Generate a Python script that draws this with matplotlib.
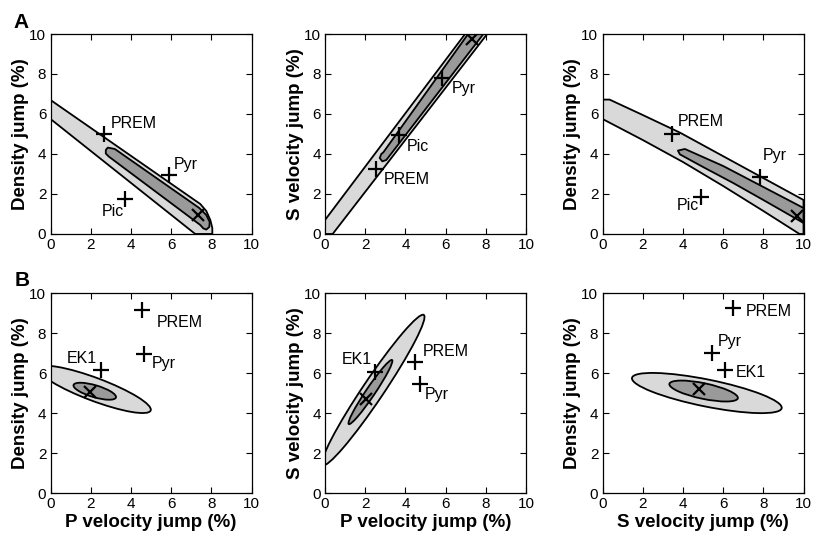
import matplotlib
matplotlib.use('Agg')
import matplotlib.pyplot as plt
from matplotlib.patches import Polygon, Ellipse

plt.rcParams['font.family'] = ['Liberation Sans', 'DejaVu Sans']

LIGHT = '#d9d9d9'
DARK = '#9a9a9a'
ticks = [0, 2, 4, 6, 8, 10]

# ---- row A : confidence regions (outlines) ----
a1_outer_x = [0, 0, 7.2, 8.05, 8.05, 7.95, 7.75, 7.45]
a1_outer_y = [6.7, 5.75, 0, 0, 0.3, 0.7, 1.15, 1.5]
a1_inner_x = [2.75, 2.75, 2.9, 7.45, 7.6, 7.75, 7.9, 7.92, 7.75, 7.4, 3.2, 2.85]
a1_inner_y = [4.2, 4.02, 3.87, 0.45, 0.28, 0.22, 0.35, 0.6, 0.95, 1.3, 4.25, 4.32]
a1_models = ['PREM', 'Pyr', 'Pic']
a1_model_x = [2.64, 5.87, 3.72]
a1_model_y = [5.02, 2.94, 1.77]
a1_best = [7.36, 0.97]
a1_text_x = [2.98, 6.15, 3.64]
a1_text_y = [5.52, 3.48, 1.14]
a1_text_ha = ['left', 'left', 'right']

a2_outer_x = [0, 0.38, 8.07, 6.97, 0]
a2_outer_y = [0, 0, 10, 10, 0.7]
a2_inner_x = [2.72, 2.8, 2.9, 7.12, 7.88, 3.05, 2.85]
a2_inner_y = [3.8, 4.0, 4.08, 10, 10, 3.7, 3.63]
a2_models = ['PREM', 'Pyr', 'Pic']
a2_model_x = [2.56, 5.82, 3.67]
a2_model_y = [3.25, 7.81, 4.97]
a2_best = [7.31, 9.75]
a2_text_x = [2.93, 6.31, 4.08]
a2_text_y = [2.70, 7.26, 4.36]
a2_text_ha = ['left', 'left', 'left']

a3_outer_x = [0, 0.35, 2.0, 3.85, 7.9, 10, 10, 9.8, 8.0, 6.0, 4.0, 2.0, 0]
a3_outer_y = [6.72, 6.72, 5.95, 5.07, 2.85, 1.7, 0, 0, 1.15, 2.4, 3.6, 4.7, 5.75]
a3_inner_x = [3.75, 4.1, 6.0, 8.0, 10, 10, 8.0, 6.5, 5.0, 3.85]
a3_inner_y = [4.17, 4.25, 3.4, 2.35, 1.3, 0.55, 1.7, 2.55, 3.35, 3.98]
a3_models = ['PREM', 'Pyr', 'Pic']
a3_model_x = [3.47, 7.83, 4.92]
a3_model_y = [5.0, 2.85, 1.87]
a3_best = [9.67, 0.92]
a3_text_x = [3.75, 7.97, 4.8]
a3_text_y = [5.63, 3.92, 1.42]
a3_text_ha = ['left', 'left', 'right']

# ---- row B : ellipses (centre x, centre y, width, height, angle) ----
b1_outer = [2.2, 5.18, 5.95, 1.15, -20.7]
b1_inner = [2.2, 5.09, 2.2, 0.6, -16.5]
b1_models = ['PREM', 'Pyr', 'EK1']
b1_model_x = [4.53, 4.65, 2.5]
b1_model_y = [9.17, 6.97, 6.13]
b1_best = [1.94, 5.07]
b1_text_x = [5.31, 5.02, 2.29]
b1_text_y = [8.53, 6.47, 6.72]
b1_text_ha = ['left', 'left', 'right']

b2_outer = [2.4, 5.15, 9.04, 1.04, 56.2]
b2_inner = [2.26, 5.05, 3.86, 0.45, 56.1]
b2_models = ['PREM', 'Pyr', 'EK1']
b2_model_x = [4.46, 4.74, 2.5]
b2_model_y = [6.57, 5.45, 6.07]
b2_best = [2.06, 4.68]
b2_text_x = [4.86, 4.94, 2.32]
b2_text_y = [7.08, 4.92, 6.67]
b2_text_ha = ['left', 'left', 'right']

b3_outer = [5.19, 5.0, 7.6, 1.35, -11.5]
b3_inner = [5.03, 5.1, 3.48, 0.78, -11.9]
b3_models = ['PREM', 'Pyr', 'EK1']
b3_model_x = [6.5, 5.45, 6.1]
b3_model_y = [9.23, 7.0, 6.14]
b3_best = [4.8, 5.21]
b3_text_x = [7.12, 5.75, 6.62]
b3_text_y = [9.08, 7.57, 6.05]
b3_text_ha = ['left', 'left', 'left']


def style_axes(ax, xlabel, ylabel):
    ax.set_xlim(0, 10)
    ax.set_ylim(0, 10)
    ax.set_xticks(ticks)
    ax.set_yticks(ticks)
    ax.tick_params(direction='in', top=True, right=True, length=4, width=0.8,
                   labelsize=11, pad=3)
    for s in ax.spines.values():
        s.set_linewidth(0.9)
    if xlabel:
        ax.set_xlabel(xlabel, fontsize=13.5, fontweight='bold', labelpad=2)
    if ylabel:
        ax.set_ylabel(ylabel, fontsize=13.5, fontweight='bold', labelpad=0)


def add_points(ax, models, mx, my, best, tx, ty, ha):
    ax.plot(mx, my, '+', color='k', ms=12, mew=1.6, zorder=5)
    ax.plot(best[0], best[1], 'x', color='k', ms=9, mew=1.6, zorder=5)
    for name, x, y, h in zip(models, tx, ty, ha):
        ax.text(x, y, name, fontsize=11.5, ha=h, va='center', zorder=6)


def add_poly(ax, xs, ys, color):
    ax.add_patch(Polygon(list(zip(xs, ys)), closed=True, facecolor=color,
                         edgecolor='k', lw=1.3, joinstyle='round', zorder=2))


def add_ell(ax, e, color):
    ax.add_patch(Ellipse((e[0], e[1]), e[2], e[3], angle=e[4], facecolor=color,
                         edgecolor='k', lw=1.3, zorder=2))


fig = plt.figure(figsize=(8.15, 5.38), dpi=100)
lefts = [0.062, 0.3988, 0.7393]
w, h = 0.2466, 0.3717
ax_a = [fig.add_axes([l, 0.5651, w, h]) for l in lefts]
ax_b = [fig.add_axes([l, 0.0836, w, h]) for l in lefts]

# row A
add_poly(ax_a[0], a1_outer_x, a1_outer_y, LIGHT)
add_poly(ax_a[0], a1_inner_x, a1_inner_y, DARK)
add_points(ax_a[0], a1_models, a1_model_x, a1_model_y, a1_best, a1_text_x, a1_text_y, a1_text_ha)
style_axes(ax_a[0], None, 'Density jump (%)')

add_poly(ax_a[1], a2_outer_x, a2_outer_y, LIGHT)
add_poly(ax_a[1], a2_inner_x, a2_inner_y, DARK)
add_points(ax_a[1], a2_models, a2_model_x, a2_model_y, a2_best, a2_text_x, a2_text_y, a2_text_ha)
style_axes(ax_a[1], None, 'S velocity jump (%)')

add_poly(ax_a[2], a3_outer_x, a3_outer_y, LIGHT)
add_poly(ax_a[2], a3_inner_x, a3_inner_y, DARK)
add_points(ax_a[2], a3_models, a3_model_x, a3_model_y, a3_best, a3_text_x, a3_text_y, a3_text_ha)
style_axes(ax_a[2], None, 'Density jump (%)')

# row B
add_ell(ax_b[0], b1_outer, LIGHT)
add_ell(ax_b[0], b1_inner, DARK)
add_points(ax_b[0], b1_models, b1_model_x, b1_model_y, b1_best, b1_text_x, b1_text_y, b1_text_ha)
style_axes(ax_b[0], 'P velocity jump (%)', 'Density jump (%)')

add_ell(ax_b[1], b2_outer, LIGHT)
add_ell(ax_b[1], b2_inner, DARK)
add_points(ax_b[1], b2_models, b2_model_x, b2_model_y, b2_best, b2_text_x, b2_text_y, b2_text_ha)
style_axes(ax_b[1], 'P velocity jump (%)', 'S velocity jump (%)')

add_ell(ax_b[2], b3_outer, LIGHT)
add_ell(ax_b[2], b3_inner, DARK)
add_points(ax_b[2], b3_models, b3_model_x, b3_model_y, b3_best, b3_text_x, b3_text_y, b3_text_ha)
style_axes(ax_b[2], 'S velocity jump (%)', 'Density jump (%)')

fig.text(21 / 815, 1 - 22 / 538, 'A', fontsize=15, fontweight='bold', ha='center', va='center')
fig.text(22 / 815, 1 - 280 / 538, 'B', fontsize=15, fontweight='bold', ha='center', va='center')

fig.savefig('out.png', dpi=100)
